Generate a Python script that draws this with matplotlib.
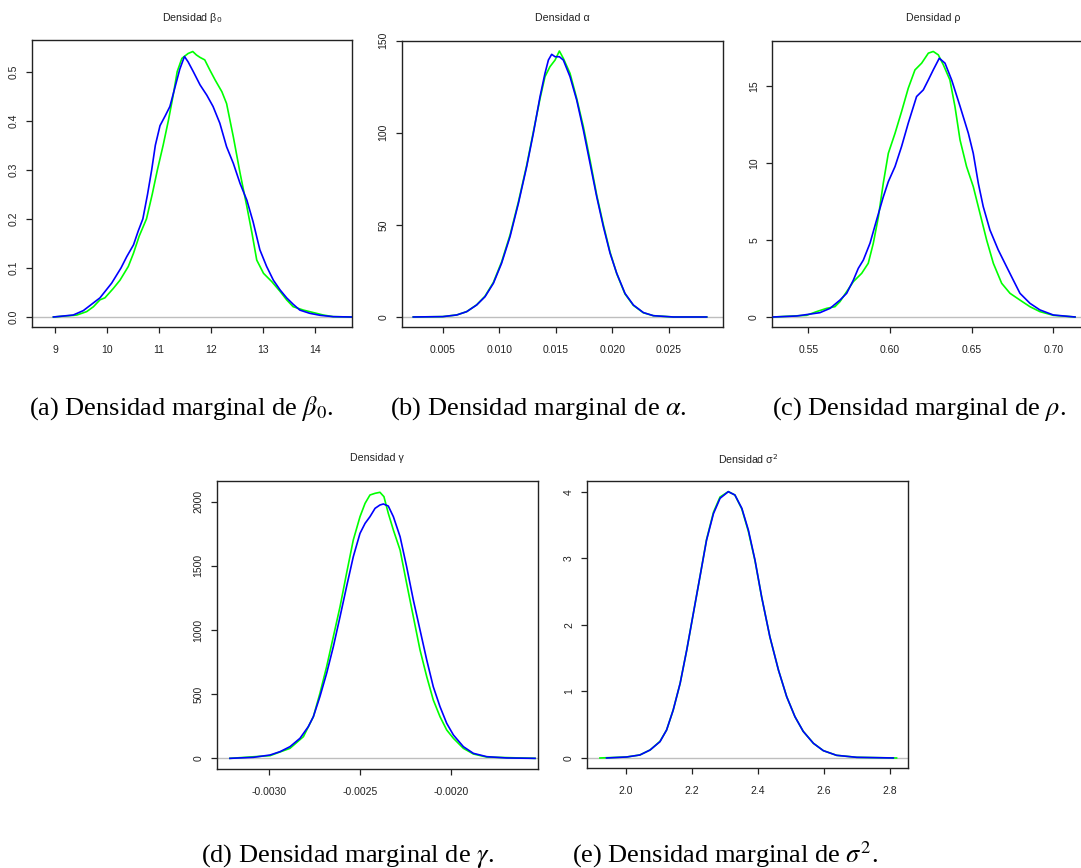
'''
Marginal posterior densities (two chains) for beta0, alpha, rho, gamma and sigma^2
* Each panel mimics an R plot(density(...)) with a second chain added in blue
* Values were read off the reference picture
'''

import matplotlib
matplotlib.use("Agg")
import matplotlib.pyplot as plt

plt.rcParams['font.family'] = ['Liberation Sans', 'DejaVu Sans']

W, H = 1081, 868

# ---- (a) beta0 ----
beta0_x_green = [8.97, 9.42, 9.61, 9.74, 9.865, 9.96, 10.12, 10.25, 10.41, 10.51, 10.62, 10.76,
                 10.87, 10.97, 11.08, 11.18, 11.27, 11.35, 11.44, 11.56, 11.65, 11.72, 11.79,
                 11.88, 11.98, 12.08, 12.21, 12.30, 12.43, 12.56, 12.69, 12.79, 12.88, 13.01,
                 13.17, 13.33, 13.455, 13.58, 13.78, 13.97, 14.16, 14.35, 14.7]
beta0_y_green = [0, 0.004, 0.011, 0.021, 0.035, 0.039, 0.058, 0.075, 0.103, 0.130, 0.165, 0.200,
                 0.250, 0.300, 0.350, 0.400, 0.450, 0.500, 0.527, 0.537, 0.541, 0.534, 0.529,
                 0.524, 0.503, 0.483, 0.459, 0.435, 0.367, 0.293, 0.225, 0.170, 0.116, 0.089,
                 0.072, 0.052, 0.035, 0.021, 0.014, 0.009, 0.004, 0.0007, 0]
beta0_x_blue = [8.97, 9.35, 9.545, 9.705, 9.865, 10.09, 10.27, 10.38, 10.51, 10.60, 10.69, 10.78,
                10.86, 10.93, 11.02, 11.12, 11.21, 11.30, 11.40, 11.49, 11.56, 11.66, 11.79,
                11.92, 12.04, 12.17, 12.30, 12.43, 12.56, 12.69, 12.81, 12.94, 13.07, 13.20,
                13.33, 13.455, 13.58, 13.71, 13.9, 14.1, 14.35, 14.7]
beta0_y_blue = [0, 0.004, 0.013, 0.026, 0.039, 0.069, 0.100, 0.123, 0.147, 0.175, 0.200, 0.250,
                0.300, 0.350, 0.390, 0.410, 0.429, 0.465, 0.505, 0.531, 0.520, 0.500, 0.473,
                0.452, 0.429, 0.395, 0.347, 0.313, 0.272, 0.238, 0.194, 0.137, 0.103, 0.075,
                0.055, 0.039, 0.026, 0.014, 0.0075, 0.0034, 0.0007, 0]
beta0_xticks = [9, 10, 11, 12, 13, 14]
beta0_yticks = [0.0, 0.1, 0.2, 0.3, 0.4, 0.5]

# ---- (b) alpha ----
alpha_x_green = [0.0024, 0.005, 0.00624, 0.00712, 0.0080, 0.00874, 0.00948, 0.0102, 0.01095,
                 0.01169, 0.01242, 0.01301, 0.0136, 0.01404, 0.01448, 0.01493, 0.01531, 0.01566,
                 0.01625, 0.01684, 0.01743, 0.01802, 0.01861, 0.0192, 0.01979, 0.02038, 0.02111,
                 0.02185, 0.02273, 0.02362, 0.02538, 0.02833]
alpha_y_green = [0, 0.2, 1.1, 2.9, 6.6, 11.3, 18.8, 29.8, 44.5, 62.5, 82.3, 100.5, 118.5, 130.5,
                 135.9, 139.5, 144.4, 140.4, 132.3, 118.7, 103.3, 85.2, 66.2, 50.0, 35.2, 23.5,
                 12.5, 6.3, 2.3, 0.7, 0, 0]
alpha_x_blue = [0.0024, 0.005, 0.00624, 0.00712, 0.0080, 0.00874, 0.00948, 0.0102, 0.01095,
                0.01169, 0.01242, 0.01301, 0.0136, 0.01404, 0.01434, 0.01463, 0.01493, 0.01531,
                0.01566, 0.01625, 0.01684, 0.01743, 0.01802, 0.01861, 0.0192, 0.01979, 0.02038,
                0.02111, 0.02185, 0.02273, 0.02362, 0.02538, 0.02833]
alpha_y_blue = [0, 0.2, 1.1, 2.9, 6.5, 11.0, 18.3, 29.1, 43.6, 61.7, 81.6, 99.7, 119.6, 132.3,
                139.5, 142.6, 141.3, 141.3, 139.5, 130.5, 117.8, 101.5, 83.4, 65.3, 49.0, 34.6,
                23.7, 12.8, 6.5, 2.4, 0.7, 0, 0]
alpha_xticks = [0.005, 0.010, 0.015, 0.020, 0.025]
alpha_yticks = [0, 50, 100, 150]

# ---- (c) rho ----
rho_x_green = [0.5286, 0.549, 0.5551, 0.5612, 0.5663, 0.5694, 0.5735, 0.5776, 0.5827, 0.5867,
               0.5898, 0.5929, 0.5959, 0.599, 0.6031, 0.6071, 0.6112, 0.6153, 0.6194, 0.6235,
               0.6265, 0.6296, 0.6327, 0.6367, 0.6398, 0.6429, 0.6469, 0.651, 0.6551, 0.6592,
               0.6633, 0.6684, 0.6735, 0.6796, 0.6857, 0.6918, 0.70, 0.7133]
rho_y_green = [0, 0.11, 0.35, 0.56, 0.67, 1.0, 1.65, 2.3, 2.84, 3.49, 4.79, 6.5, 8.69, 10.64,
               11.94, 13.35, 14.87, 16.06, 16.5, 17.15, 17.26, 17.04, 16.39, 15.41, 13.68, 11.51,
               9.78, 8.48, 6.74, 5.0, 3.49, 2.19, 1.54, 1.1, 0.67, 0.35, 0.11, 0]
rho_x_blue = [0.5286, 0.5429, 0.5571, 0.5633, 0.5694, 0.5735, 0.5776, 0.5806, 0.5837, 0.5878,
              0.5918, 0.5959, 0.599, 0.6031, 0.6071, 0.6112, 0.6163, 0.6204, 0.6235, 0.6265,
              0.6302, 0.6337, 0.6378, 0.6429, 0.648, 0.651, 0.6541, 0.6571, 0.6612, 0.6663,
              0.6714, 0.6755, 0.6796, 0.6857, 0.6918, 0.70, 0.7133]
rho_y_blue = [0, 0.065, 0.28, 0.56, 1.1, 1.54, 2.4, 3.16, 3.7, 4.8, 6.3, 7.8, 8.8, 9.78, 11.08,
              12.6, 14.33, 14.76, 15.41, 16.06, 16.82, 16.5, 15.4, 13.7, 11.94, 10.64, 8.69, 7.18,
              5.66, 4.36, 3.27, 2.4, 1.54, 0.89, 0.46, 0.13, 0]
rho_xticks = [0.55, 0.60, 0.65, 0.70]
rho_yticks = [0, 5, 10, 15]

# ---- (d) gamma ----
gamma_x_green = [-0.003217, -0.002996, -0.002886, -0.002812, -0.002757, -0.002721, -0.002684,
                 -0.002647, -0.00261, -0.002574, -0.002537, -0.0025, -0.002472, -0.002445,
                 -0.002417, -0.00239, -0.002368, -0.002344, -0.002316, -0.002279, -0.002243,
                 -0.002206, -0.002169, -0.002132, -0.002096, -0.002059, -0.002022, -0.001985,
                 -0.00193, -0.001875, -0.001801, -0.001535]
gamma_y_green = [0, 21, 78, 169, 325, 506, 714, 948, 1182, 1442, 1701, 1883, 1987, 2052, 2065,
                 2073, 2039, 1909, 1779, 1623, 1364, 1104, 844, 636, 455, 325, 221, 156, 78, 34,
                 10, 0]
gamma_x_blue = [-0.003217, -0.003088, -0.002996, -0.002941, -0.002886, -0.002831, -0.002785,
                -0.002757, -0.002721, -0.002684, -0.002647, -0.00261, -0.002574, -0.002537,
                -0.0025, -0.002472, -0.002445, -0.002417, -0.00239, -0.002371, -0.002344,
                -0.002316, -0.002279, -0.002243, -0.002206, -0.002169, -0.002132, -0.002096,
                -0.002059, -0.002022, -0.001985, -0.00193, -0.001875, -0.001801, -0.001691,
                -0.001535]
gamma_y_blue = [0, 8, 26, 52, 91, 156, 247, 325, 481, 662, 870, 1104, 1338, 1571, 1753, 1831,
                1883, 1948, 1974, 1982, 1966, 1883, 1727, 1494, 1234, 1000, 766, 558, 403, 273,
                182, 91, 39, 13, 3, 0]
gamma_xticks = [-0.0030, -0.0025, -0.0020]
gamma_yticks = [0, 500, 1000, 1500, 2000]

# ---- (e) sigma^2 ----
sigma2_x_green = [1.921, 2.002, 2.042, 2.073, 2.103, 2.123, 2.143, 2.164, 2.184, 2.204, 2.224,
                  2.244, 2.265, 2.285, 2.31, 2.33, 2.351, 2.371, 2.391, 2.411, 2.436, 2.462,
                  2.487, 2.512, 2.537, 2.568, 2.598, 2.638, 2.699, 2.82]
sigma2_y_green = [0, 0.015, 0.045, 0.12, 0.25, 0.42, 0.72, 1.12, 1.62, 2.17, 2.72, 3.28, 3.69,
                  3.92, 4.0, 3.95, 3.74, 3.40, 2.96, 2.42, 1.82, 1.32, 0.92, 0.62, 0.40, 0.22,
                  0.11, 0.04, 0.01, 0]
sigma2_x_blue = [1.941, 2.002, 2.042, 2.073, 2.103, 2.123, 2.143, 2.164, 2.184, 2.204, 2.224,
                 2.244, 2.265, 2.285, 2.31, 2.33, 2.351, 2.371, 2.391, 2.411, 2.436, 2.462, 2.487,
                 2.512, 2.537, 2.568, 2.598, 2.638, 2.699, 2.81]
sigma2_y_blue = [0, 0.015, 0.045, 0.12, 0.245, 0.42, 0.72, 1.12, 1.62, 2.17, 2.72, 3.27, 3.67,
                 3.9, 4.0, 3.95, 3.75, 3.42, 2.97, 2.42, 1.82, 1.32, 0.92, 0.62, 0.40, 0.22, 0.11,
                 0.04, 0.01, 0]
sigma2_xticks = [2.0, 2.2, 2.4, 2.6, 2.8]
sigma2_yticks = [0, 1, 2, 3, 4]


def draw_panel(fig, box, green, blue, xlim, ylim, xticks, xfmt, yticks, yfmt):
    """
    Draws one R-style density panel; box is (left, top, right, bottom) in pixels
    """
    left, top, right, bottom = box
    ax = fig.add_axes([left / W, 1 - bottom / H, (right - left) / W, (bottom - top) / H])
    ax.axhline(0, color='#bebebe', lw=1.0, zorder=1)
    ax.plot(green[0], green[1], color='#00ff00', lw=1.2, zorder=2)
    ax.plot(blue[0], blue[1], color='#0000ff', lw=1.2, zorder=3)
    ax.set_xlim(*xlim)
    ax.set_ylim(*ylim)

    ax.set_xticks(xticks)
    ax.set_xticklabels([xfmt % v for v in xticks])
    ax.set_yticks(yticks)
    ax.set_yticklabels([yfmt % v for v in yticks], rotation=90, va='center')

    ax.tick_params(axis='x', direction='out', length=4.5, width=0.9, pad=8.5, labelsize=7.5, colors='#222222')
    ax.tick_params(axis='y', direction='out', length=4.5, width=0.9, pad=5, labelsize=7.5, colors='#222222')
    for s in ax.spines.values():
        s.set_linewidth(1.0)
        s.set_color('#222222')
    return ax


fig = plt.figure(figsize=(W / 100, H / 100), dpi=100)

draw_panel(fig, (32, 40, 352, 327.3), (beta0_x_green, beta0_y_green), (beta0_x_blue, beta0_y_blue),
           (8.558, 14.712), (-0.021, 0.5645), beta0_xticks, '%d', beta0_yticks, '%.1f')
draw_panel(fig, (401.7, 40.7, 723, 327.3), (alpha_x_green, alpha_y_green), (alpha_x_blue, alpha_y_blue),
           (0.001377, 0.02977), (-5.6, 150.0), alpha_xticks, '%.3f', alpha_yticks, '%d')
draw_panel(fig, (772.3, 40.7, 1093.3, 327.3), (rho_x_green, rho_y_green), (rho_x_blue, rho_y_blue),
           (0.52796, 0.7245), (-0.67, 17.96), rho_xticks, '%.2f', rho_yticks, '%d')
draw_panel(fig, (216.7, 481, 538.3, 769), (gamma_x_green, gamma_y_green), (gamma_x_blue, gamma_y_blue),
           (-0.00329, -0.001517), (-83, 2161), gamma_xticks, '%.4f', gamma_yticks, '%d')
draw_panel(fig, (587.3, 481, 908.3, 768.3), (sigma2_x_green, sigma2_y_green), (sigma2_x_blue, sigma2_y_blue),
           (1.8827, 2.8555), (-0.155, 4.16), sigma2_xticks, '%.1f', sigma2_yticks, '%d')

# R titles (plotmath, plain Helvetica)
titles = [(192, 18, 'Densidad β$_0$'), (562, 18, 'Densidad α'), (933, 18, 'Densidad ρ'),
          (377, 458, 'Densidad γ'), (748, 459, 'Densidad σ$^2$')]
for x, y, t in titles:
    fig.text(x / W, 1 - y / H, t, ha='center', va='center', fontsize=7.7, color='#222222',
             math_fontfamily='dejavusans')

# LaTeX subfigure captions
captions = [(181, 415, r'(a) Densidad marginal de $\beta_0$.'),
            (538, 415, r'(b) Densidad marginal de $\alpha$.'),
            (919, 415, r'(c) Densidad marginal de $\rho$.'),
            (348, 862, r'(d) Densidad marginal de $\gamma$.'),
            (725, 862, r'(e) Densidad marginal de $\sigma^2$.')]
for x, y, t in captions:
    fig.text(x / W, 1 - y / H, t, ha='center', va='baseline', fontsize=19,
             family='Liberation Serif', math_fontfamily='stix')

fig.savefig('out.png', dpi=100)
